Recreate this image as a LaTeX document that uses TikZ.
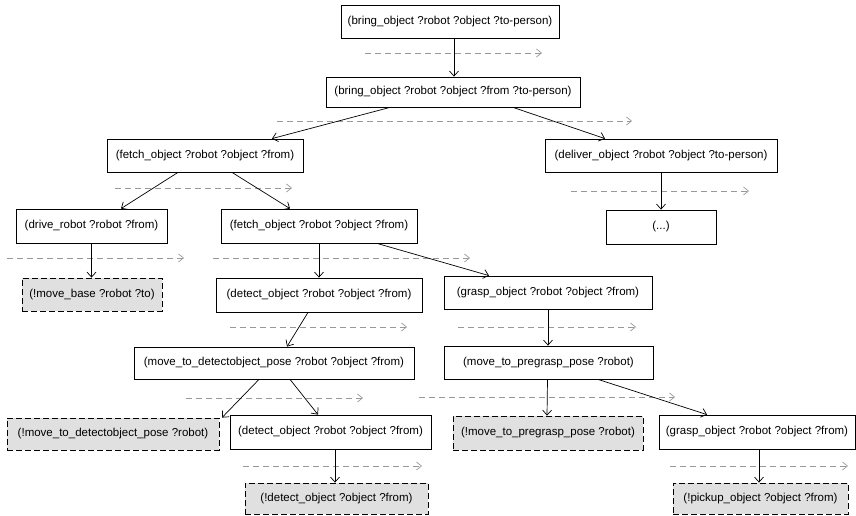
\documentclass[tikz,border=0pt]{standalone}
\usepackage{fontspec}
\setmainfont{Liberation Sans}
\usetikzlibrary{arrows.meta}
\begin{document}
\begin{tikzpicture}[x=1pt,y=-1pt,
  box/.style={draw=black, line width=0.8pt, fill=white, inner sep=0pt, font=\fontsize{11.5}{13}\selectfont},
  prim/.style={box, dashed, dash pattern=on 6pt off 3pt, fill=black!12},
  arr/.style={draw=black, line width=0.7pt, -{Straight Barb[length=5pt,width=9pt]}},
  flow/.style={draw=black!40, line width=0.7pt, dash pattern=on 6pt off 4pt, -{Straight Barb[length=5pt,width=8pt]}}]
\useasboundingbox (0,0) rectangle (856,516);
% nodes
\node[box, minimum width=218pt, minimum height=33pt] (A) at (450,21.5) {(bring\_object ?robot ?object ?to-person)};
\node[box, minimum width=254pt, minimum height=30pt] (B) at (453,92) {(bring\_object ?robot ?object ?from ?to-person)};
\node[box, minimum width=196pt, minimum height=33pt] (C) at (205,155.5) {(fetch\_object ?robot ?object ?from)};
\node[box, minimum width=232pt, minimum height=33pt] (D) at (661,155.5) {(deliver\_object ?robot ?object ?to-person)};
\node[box, minimum width=110pt, minimum height=34pt] (E) at (661,227) {(...)};
\node[box, minimum width=151pt, minimum height=34pt] (F) at (91.5,226) {(drive\_robot ?robot ?from)};
\node[box, minimum width=196pt, minimum height=34pt] (G) at (319,226) {(fetch\_object ?robot ?object ?from)};
\node[prim, minimum width=140pt, minimum height=33pt] (H) at (92,294.5) {(!move\_base ?robot ?to)};
\node[box, minimum width=206pt, minimum height=34pt] (I) at (319,295) {(detect\_object ?robot ?object ?from)};
\node[box, minimum width=208pt, minimum height=33pt] (J) at (548,292.5) {(grasp\_object ?robot ?object ?from)};
\node[box, minimum width=280pt, minimum height=32pt] (K) at (274,363) {(move\_to\_detectobject\_pose ?robot ?object ?from)};
\node[box, minimum width=209pt, minimum height=33pt] (L) at (548.5,362.5) {(move\_to\_pregrasp\_pose ?robot)};
\node[prim, minimum width=212pt, minimum height=32pt] (M) at (113,434) {(!move\_to\_detectobject\_pose ?robot)};
\node[box, minimum width=201pt, minimum height=34pt] (N) at (330.5,432) {(detect\_object ?robot ?object ?from)};
\node[prim, minimum width=183pt, minimum height=31pt] (O) at (336.5,498.5) {(!detect\_object ?object ?from)};
\node[prim, minimum width=190pt, minimum height=34pt] (P) at (548,433) {(!move\_to\_pregrasp\_pose ?robot)};
\node[box, minimum width=196pt, minimum height=34pt] (Q) at (757,432) {(grasp\_object ?robot ?object ?from)};
\node[prim, minimum width=175pt, minimum height=31pt] (R) at (760.5,498.5) {(!pickup\_object ?object ?from)};
% flow (dashed gray) arrows
\coordinate (f1a) at (365,53);  \coordinate (f1b) at (542,53);
\coordinate (f2a) at (277,121); \coordinate (f2b) at (632,121);
\coordinate (f3a) at (115,188); \coordinate (f3b) at (292,188);
\coordinate (f4a) at (571,191); \coordinate (f4b) at (749,191);
\coordinate (f5a) at (7,258);   \coordinate (f5b) at (184,258);
\coordinate (f6a) at (213,258); \coordinate (f6b) at (470,258);
\coordinate (f7a) at (230,327); \coordinate (f7b) at (407,327);
\coordinate (f8a) at (458,327); \coordinate (f8b) at (636,327);
\coordinate (f9a) at (186,398); \coordinate (f9b) at (363,398);
\coordinate (f10a) at (419,397); \coordinate (f10b) at (675,397);
\coordinate (f11a) at (243,466); \coordinate (f11b) at (422,466);
\coordinate (f12a) at (670,466); \coordinate (f12b) at (848,466);
\foreach \i in {1,...,12} {\draw[flow] (f\i a) -- (f\i b);}
% tree arrows
\draw[arr] ([xshift=4pt]A.south) -- ([xshift=1pt]B.north);
\draw[arr] ([xshift=-63pt]B.south) -- ([xshift=67pt]C.north);
\draw[arr] ([xshift=60pt]B.south) -- ([xshift=-56pt]D.north);
\draw[arr] (D.south) -- (E.north);
\draw[arr] ([xshift=-27pt]C.south) -- ([xshift=29.5pt]F.north);
\draw[arr] ([xshift=27pt]C.south) -- ([xshift=-29pt]G.north);
\draw[arr] (F.south) -- (H.north -| F.south);
\draw[arr] (G.south) -- (I.north);
\draw[arr] ([xshift=58pt]G.south) -- ([xshift=-59pt]J.north);
\draw[arr] ([xshift=-11pt]I.south) -- ([xshift=13pt]K.north);
\draw[arr] (J.south) -- (L.north -| J.south);
\draw[arr] ([xshift=-15pt]K.south) -- ([xshift=109pt]M.north);
\draw[arr] ([xshift=16pt]K.south) -- ([xshift=-12.5pt]N.north);
\draw[arr] ([xshift=4.5pt]N.south) -- ([xshift=-1.5pt]O.north);
\draw[arr] ([xshift=-1pt]L.south) -- ([xshift=-1pt]P.north);
\draw[arr] ([xshift=49.5pt]L.south) -- ([xshift=-50pt]Q.north);
\draw[arr] ([xshift=2pt]Q.south) -- ([xshift=-1.5pt]R.north);
\end{tikzpicture}
\end{document}
